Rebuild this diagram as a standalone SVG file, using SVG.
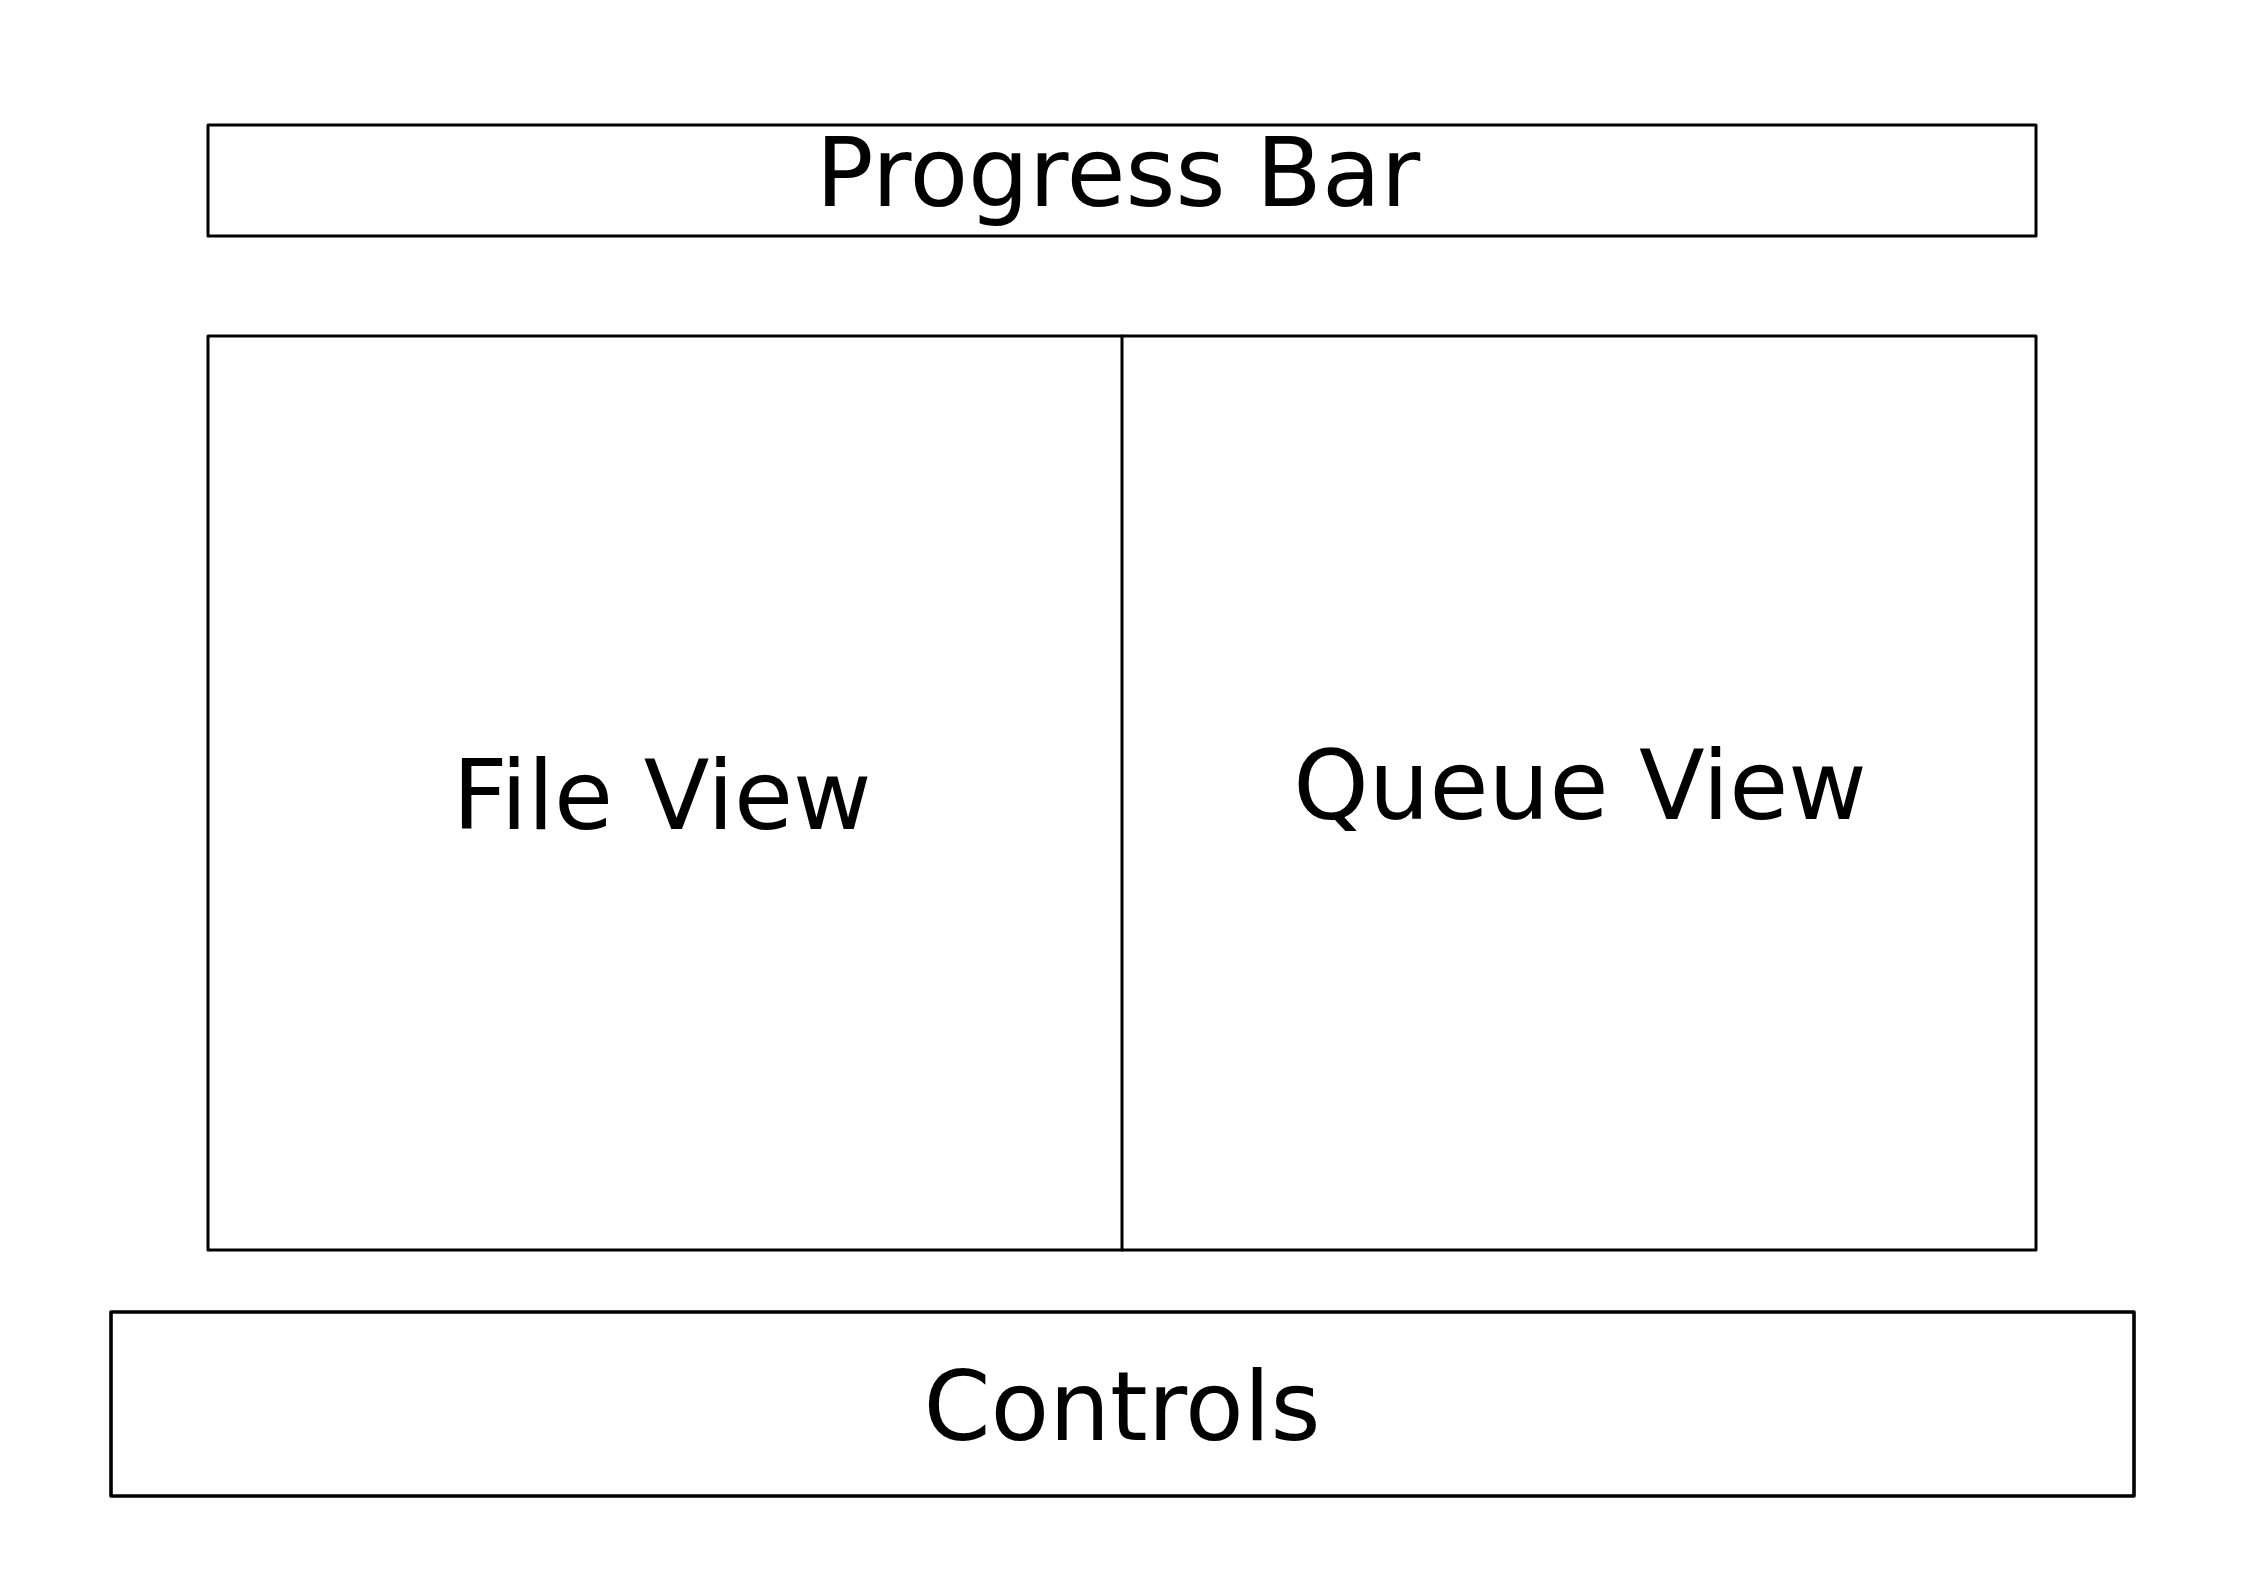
<svg xmlns="http://www.w3.org/2000/svg" width="2245" height="1587" viewBox="0 0 2245 1587">
<style>
.box{fill:none;stroke:#000;stroke-linejoin:round;stroke-linecap:round}
.thin{stroke-width:3}
.thick{stroke-width:3.6}
.lbl{font-family:"DejaVu Sans",Verdana,sans-serif;font-size:96px;fill:#000;text-anchor:middle}
</style>
<rect width="2245" height="1587" fill="#fff"/>
<g id="progress-bar">
<rect class="box thin" x="208" y="125" width="1828" height="111"/>
<text class="lbl" x="1118" y="206">Progress Bar</text>
</g>
<g id="main-area">
<rect class="box thin" x="208" y="336" width="1828" height="914"/>
</g>
<g id="file-view">
<text class="lbl" x="662" y="829">File View</text>
</g>
<g id="queue-view">
<text class="lbl" x="1580" y="819">Queue View</text>
</g>
<g id="controls">
<rect class="box thick" x="111" y="1312" width="2023" height="184"/>
<text class="lbl" x="1122" y="1440">Controls</text>
</g>
<g id="connectors">
<line class="box thin" x1="1122" y1="336" x2="1122" y2="1250"/>
</g>
</svg>
